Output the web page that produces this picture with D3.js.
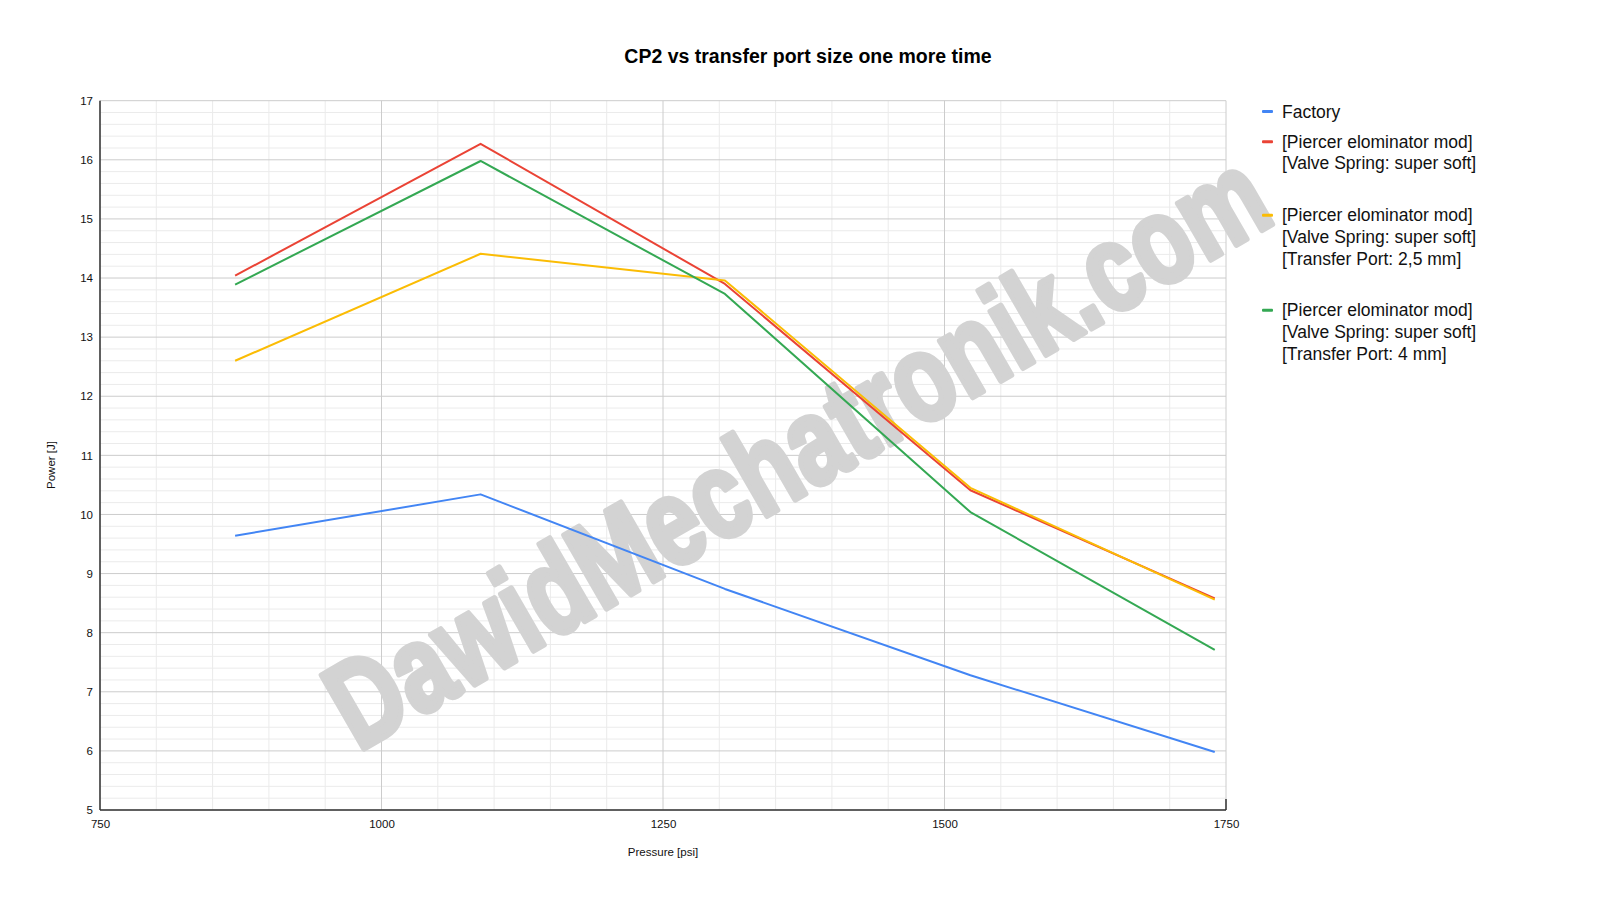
<!DOCTYPE html>
<html>
<head>
<meta charset="utf-8">
<script src="https://cdn.jsdelivr.net/npm/d3@7"></script>
<style>
  html, body { margin: 0; padding: 0; background: #fff; }
  svg { display: block; font-family: "Liberation Sans", Arial, sans-serif; }
</style>
</head>
<body>
<svg id="chart" width="1600" height="903"></svg>
<script>
// Pressure points (psi) - 60, 75, 90, 105, 120 bar.
const pressures = [870, 1088, 1305, 1523, 1740];

// Power [J] per series.
const factory = [9.64, 10.34, 8.74, 7.28, 5.98];
const softSpring = [14.04, 16.27, 13.9, 10.41, 8.58];
const port25 = [12.6, 14.41, 13.96, 10.45, 8.56];
const port4 = [13.89, 15.98, 13.73, 10.04, 7.71];

const seriesNames = [
  ['Factory'],
  ['[Piercer elominator mod]', '[Valve Spring: super soft]'],
  ['[Piercer elominator mod]', '[Valve Spring: super soft]', '[Transfer Port: 2,5 mm]'],
  ['[Piercer elominator mod]', '[Valve Spring: super soft]', '[Transfer Port: 4 mm]']
];
const seriesColors = ['#4285f4', '#ea4335', '#fbbc04', '#34a853'];

const xTicks = [750, 1000, 1250, 1500, 1750];
const yTicks = [5, 6, 7, 8, 9, 10, 11, 12, 13, 14, 15, 16, 17];

const series = [factory, softSpring, port25, port4].map((values, i) => ({
  names: seriesNames[i],
  color: seriesColors[i],
  points: values.map((power, j) => ({ pressure: pressures[j], power }))
}));

const svg = d3.select('#chart');

// Plot box.
const plotLeft = 100, plotRight = 1226, plotTop = 100.7, plotBottom = 810;

// Scales.
const xScale = d3.scaleLinear().domain([750, 1750]).range([plotLeft, plotRight]);
const yScale = d3.scaleLinear().domain([5, 17]).range([plotBottom, plotTop]);

// Minor grid.
const grid = svg.append('g');
grid.selectAll('.minor-x')
  .data(d3.range(750, 1751, 50).filter(v => !xTicks.includes(v)))
  .join('line')
  .attr('x1', d => xScale(d)).attr('x2', d => xScale(d))
  .attr('y1', plotTop).attr('y2', plotBottom)
  .attr('stroke', '#ebebeb').attr('stroke-width', 1);
grid.selectAll('.minor-y')
  .data(d3.range(0, 60).map(i => 5 + i * 0.2).filter(v => Math.abs(v - Math.round(v)) > 0.01))
  .join('line')
  .attr('x1', plotLeft).attr('x2', plotRight)
  .attr('y1', d => yScale(d)).attr('y2', d => yScale(d))
  .attr('stroke', '#ebebeb').attr('stroke-width', 1);

// Major grid.
grid.selectAll('.major-x')
  .data(xTicks)
  .join('line')
  .attr('x1', d => xScale(d)).attr('x2', d => xScale(d))
  .attr('y1', plotTop).attr('y2', plotBottom)
  .attr('stroke', '#cccccc').attr('stroke-width', 1);
grid.selectAll('.major-y')
  .data(yTicks)
  .join('line')
  .attr('x1', plotLeft).attr('x2', plotRight)
  .attr('y1', d => yScale(d)).attr('y2', d => yScale(d))
  .attr('stroke', '#cccccc').attr('stroke-width', 1);

// Watermark.
svg.append('text')
  .attr('transform', 'translate(358,752) rotate(-30)')
  .attr('font-family', '"Liberation Sans", Arial, sans-serif')
  .attr('font-weight', 'bold')
  .attr('font-size', 123)
  .attr('textLength', 1062)
  .attr('lengthAdjust', 'spacingAndGlyphs')
  .attr('fill', '#d3d3d3')
  .attr('stroke', '#d3d3d3')
  .attr('stroke-width', 6)
  .attr('stroke-linejoin', 'round')
  .text('DawidMechatronik.com');

// Axes.
svg.append('g')
  .attr('transform', `translate(0,${plotBottom})`)
  .call(d3.axisBottom(xScale).tickValues(xTicks).tickFormat(d3.format('d')).tickSize(0).tickPadding(10))
  .call(g => g.select('.domain').remove())
  .call(g => g.selectAll('text').attr('font-size', 11.5).attr('fill', '#111').attr('font-family', '"Liberation Sans", Arial, sans-serif'));

svg.append('g')
  .attr('transform', `translate(${plotLeft},0)`)
  .call(d3.axisLeft(yScale).tickValues(yTicks).tickSize(0).tickPadding(7))
  .call(g => g.select('.domain').remove())
  .call(g => g.selectAll('text').attr('font-size', 11.5).attr('fill', '#111').attr('font-family', '"Liberation Sans", Arial, sans-serif'));

svg.append('line')
  .attr('x1', plotLeft).attr('x2', plotLeft).attr('y1', plotTop).attr('y2', plotBottom)
  .attr('stroke', '#333').attr('stroke-width', 1.5);
svg.append('line')
  .attr('x1', plotLeft).attr('x2', plotRight).attr('y1', plotBottom).attr('y2', plotBottom)
  .attr('stroke', '#333').attr('stroke-width', 1.5);
svg.append('line')
  .attr('x1', plotRight).attr('x2', plotRight).attr('y1', plotBottom - 11).attr('y2', plotBottom)
  .attr('stroke', '#333').attr('stroke-width', 1.5);

// Lines.
const line = d3.line().x(d => xScale(d.pressure)).y(d => yScale(d.power));
svg.append('g')
  .selectAll('path')
  .data(series)
  .join('path')
  .attr('fill', 'none')
  .attr('stroke', d => d.color)
  .attr('stroke-width', 2)
  .attr('stroke-linejoin', 'round')
  .attr('d', d => line(d.points));

// Titles.
svg.append('text')
  .attr('x', 808).attr('y', 63)
  .attr('text-anchor', 'middle')
  .attr('font-size', 19.5).attr('font-weight', 'bold').attr('fill', '#000')
  .text('CP2 vs transfer port size one more time');

svg.append('text')
  .attr('x', (plotLeft + plotRight) / 2).attr('y', 856)
  .attr('text-anchor', 'middle')
  .attr('font-size', 11.5).attr('fill', '#111')
  .text('Pressure [psi]');

svg.append('text')
  .attr('transform', 'translate(55,465) rotate(-90)')
  .attr('text-anchor', 'middle')
  .attr('font-size', 11.5).attr('fill', '#111')
  .text('Power [J]');

// Legend.
const legendY = [111.5, 141.7, 215.3, 310.2];
const lineHeight = 21.7;
const legend = svg.append('g')
  .selectAll('g')
  .data(series)
  .join('g')
  .attr('transform', (d, i) => `translate(1262,${legendY[i]})`);

legend.append('rect')
  .attr('x', 0).attr('y', -1.5)
  .attr('width', 11).attr('height', 3)
  .attr('rx', 1)
  .attr('fill', d => d.color);

legend.append('text')
  .attr('font-size', 17.5).attr('fill', '#111')
  .selectAll('tspan')
  .data(d => d.names)
  .join('tspan')
  .attr('x', 20)
  .attr('y', (d, i) => 6 + i * lineHeight)
  .text(d => d);
</script>
</body>
</html>
